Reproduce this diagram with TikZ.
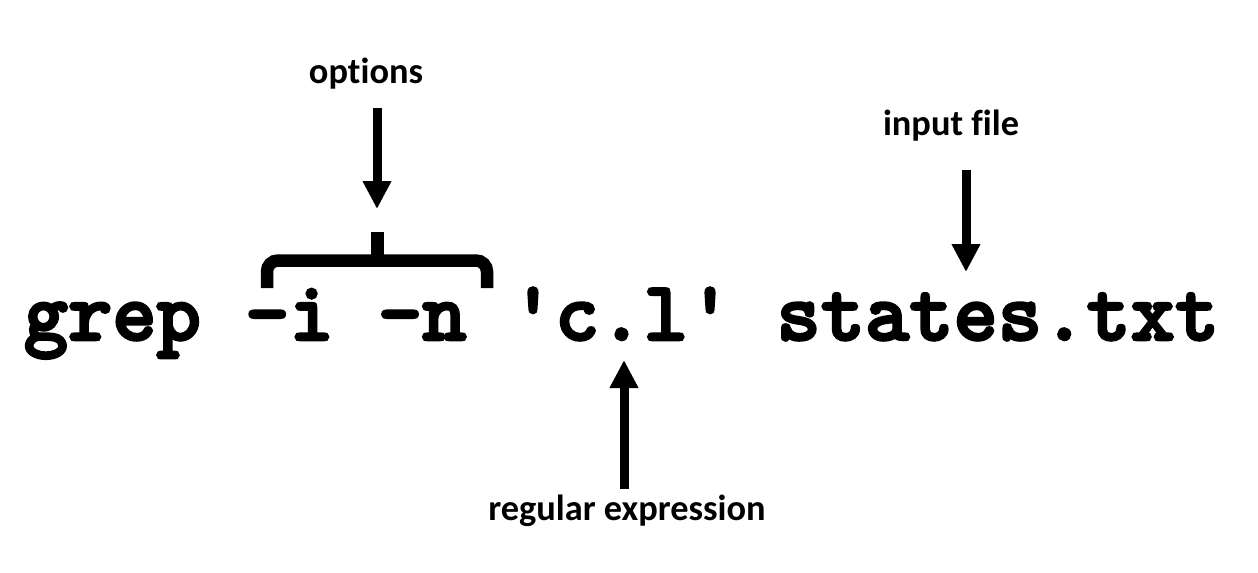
\documentclass[tikz,border=0pt]{standalone}
\usepackage{fontspec}
\newfontfamily\labelfont{Carlito}[Ligatures=NoCommon]
\newfontfamily\cmdfont{lmmonolt10-bold.otf}[FakeBold=3]
\usetikzlibrary{arrows.meta}

\begin{document}
\begin{tikzpicture}[x=0.02cm, y=-0.02cm,
        cmd/.style={font=\fontsize{48}{56}\selectfont\cmdfont, inner sep=0, anchor=base},
        lbl/.style={font=\fontsize{20.7}{24}\selectfont\labelfont\bfseries, inner sep=0, anchor=base,
            text height=0.7em, text depth=0.25em},
        bigarrow/.style={-{Triangle[width=0.54cm, length=0.56cm]}, line width=0.18cm},
        bracket/.style={line width=0.25cm, rounded corners=0.22cm}]
        \useasboundingbox (0,0) rectangle (1258,572);

        \node[cmd] (cmd) at (621.5,340) {grep -i -n 'c.l' states.txt};

        \node[lbl] (opt) at (366,83) {options};
        \node[lbl] (infile) at (951,135) {input file};
        \node[lbl] (regex) at (627,520) {regular expression};

        % brace over the options
        \draw[bracket] (267,288) |- (377,260.5) -| (487,288);
        \draw[line width=0.26cm] (377,262) -- (377,232);

        \coordinate (optend) at (377,209);
        \coordinate (infileend) at (966,272);
        \coordinate (regexend) at (624,360);

        \draw[bigarrow, shorten <=0.4cm] (opt.south -| optend) -- (optend);
        \draw[bigarrow, shorten <=0.6cm] (infile.south -| infileend) -- (infileend);
        \draw[bigarrow, shorten <=0.37cm] (regex.north -| regexend) -- (regexend);
    \end{tikzpicture}
\end{document}
